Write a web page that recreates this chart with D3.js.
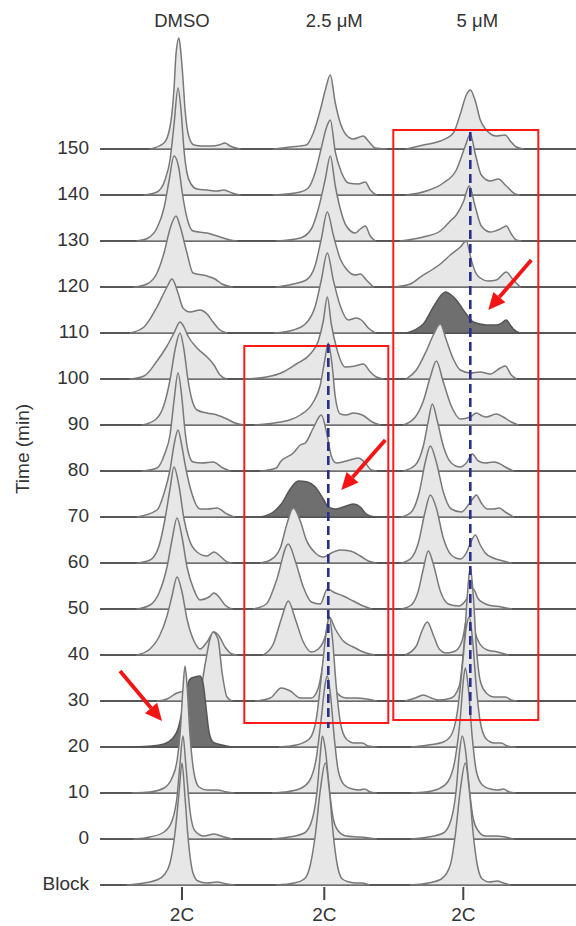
<!DOCTYPE html>
<html><head><meta charset="utf-8">
<script src="https://cdn.jsdelivr.net/npm/d3@7"></script>
<style>body{margin:0;background:#fff}svg{display:block}</style>
</head><body><svg id="c" width="576" height="926"></svg>
<script>
// ---------- data ----------
const rows = ["Block","0","10","20","30","40","50","60","70","80","90","100","110","120","130","140","150"];
const columns = ["DMSO","2.5 μM","5 μM"];
const gatedRows = ["20","70","110"];           // dark histogram per column
const xTickLabel = "2C";
const yTitle = "Time (min)";
// each histogram: [DNA-content channel offset from 2C, cell count]
const dmso = [
 [[-55,0],[-38,2],[-23,6],[-18,10],[-12,22],[-7,52],[-3,92],[0,122],[3,88],[6,48],[11,12],[16,4],[25,2],[35,3],[45,1],[52,0]],
 [[-48,0],[-32,2],[-18,7],[-10,18],[-5,42],[-2,75],[1,103],[4,72],[8,28],[13,8],[22,3],[32,5],[42,2],[50,0]],
 [[-50,0],[-32,1],[-18,5],[-10,15],[-5,32],[-2,58],[1,105],[3,127],[5,108],[8,58],[12,20],[17,6],[25,3],[35,3],[45,1],[52,0]],
 [[-50,0],[-30,1],[-18,3],[-10,8],[-4,18],[0,35],[4,55],[8,68],[13,70],[18,71],[21,64],[24,40],[27,15],[31,5],[40,2],[50,0]],
 [[-25,0],[-15,2],[-5,8],[5,10],[12,8],[18,10],[23,36],[28,62],[31,69],[36,62],[40,29],[45,4],[50,0]],
 [[-45,0],[-32,6],[-23,18],[-15,39],[-10,59],[-5,78],[0,63],[5,36],[12,14],[18,6],[25,13],[32,23],[37,19],[43,8],[50,1],[55,0]],
 [[-45,0],[-32,4],[-23,16],[-15,42],[-10,69],[-5,91],[0,72],[5,42],[12,19],[18,9],[27,12],[32,16],[37,12],[43,4],[50,0]],
 [[-45,0],[-32,3],[-23,17],[-17,44],[-12,74],[-8,96],[-3,77],[2,44],[7,24],[15,11],[25,7],[32,11],[38,7],[45,1],[50,0]],
 [[-45,0],[-25,7],[-17,27],[-12,47],[-8,72],[-4,87],[0,70],[3,53],[10,23],[18,8],[26,8],[35,9],[45,3],[52,0]],
 [[-40,0],[-25,3],[-17,18],[-12,36],[-8,70],[-4,98],[0,72],[3,40],[6,20],[11,9],[20,8],[31,9],[41,3],[48,0]],
 [[-40,0],[-27,5],[-18,20],[-12,45],[-7,75],[-2,92],[2,75],[6,45],[10,25],[15,15],[25,12],[35,10],[45,6],[53,2],[62,0]],
 [[-52,0],[-38,3],[-25,18],[-15,33],[-8,46],[-2,57],[2,52],[6,43],[15,31],[25,22],[32,14],[38,4],[45,0]],
 [[-52,0],[-38,6],[-25,26],[-15,46],[-10,54],[-4,40],[1,25],[8,21],[18,23],[25,19],[31,11],[38,3],[45,0]],
 [[-48,0],[-35,3],[-25,14],[-18,34],[-12,58],[-6,71],[-2,61],[5,34],[11,14],[25,11],[33,8],[40,3],[50,0]],
 [[-45,0],[-34,3],[-25,13],[-18,33],[-13,60],[-8,85],[-3,72],[0,50],[5,23],[11,10],[25,8],[35,5],[48,1],[55,0]],
 [[-38,0],[-25,3],[-17,15],[-12,35],[-8,70],[-4,107],[-1,85],[2,45],[5,22],[9,11],[15,6],[25,5],[35,4],[42,5],[50,2],[58,0]],
 [[-32,0],[-18,6],[-12,22],[-8,60],[-6,95],[-3,111],[-1,95],[1,70],[3,40],[7,12],[12,4],[20,3],[30,3],[37,4],[43,6],[48,3],[58,0]]
];
const dose25 = [
 [[-48,0],[-30,2],[-20,6],[-14,20],[-9,50],[-4,95],[1,122],[5,95],[9,50],[13,20],[18,6],[25,3],[32,2],[38,2],[45,0]],
 [[-52,0],[-35,2],[-20,6],[-12,20],[-7,50],[-4,85],[-2,103],[1,90],[5,50],[9,20],[14,8],[22,3],[35,2],[45,1],[52,0]],
 [[-52,0],[-40,1],[-25,4],[-15,12],[-8,35],[-3,75],[1,110],[3,117],[6,100],[10,55],[14,22],[20,8],[28,4],[35,3],[40,4],[46,1],[52,0]],
 [[-45,0],[-28,2],[-15,8],[-8,28],[-3,70],[2,115],[5,130],[8,110],[12,60],[16,25],[22,8],[30,4],[38,4],[44,1],[52,0]],
 [[-69,0],[-54,3],[-43,13],[-34,10],[-24,3],[-13,3],[-6,13],[0,45],[4,70],[8,40],[11,10],[22,3],[32,3],[42,2],[52,0]],
 [[-61,0],[-51,11],[-43,36],[-36,54],[-29,36],[-21,13],[-13,3],[-6,6],[1,19],[5,38],[11,26],[19,14],[29,8],[39,3],[50,0]],
 [[-71,0],[-58,5],[-48,28],[-36,65],[-29,48],[-21,22],[-13,7],[-4,5],[3,20],[9,17],[19,13],[29,8],[39,3],[47,0]],
 [[-64,0],[-54,3],[-44,15],[-38,37],[-31,55],[-24,42],[-18,23],[-9,10],[-1,6],[7,10],[16,13],[26,12],[36,7],[44,2],[52,0]],
 [[-64,0],[-51,5],[-43,13],[-34,28],[-26,36],[-17,35],[-9,30],[-1,18],[4,10],[11,8],[19,10],[29,13],[36,10],[42,3],[51,0]],
 [[-64,0],[-48,3],[-44,9],[-31,18],[-24,26],[-19,28],[-11,43],[-3,56],[3,35],[7,15],[12,8],[22,10],[34,13],[41,8],[47,1],[52,0]],
 [[-70,0],[-50,2],[-35,5],[-24,10],[-11,23],[-4,40],[0,62],[4,82],[8,58],[11,28],[16,11],[22,10],[29,12],[38,10],[48,3],[56,0]],
 [[-81,0],[-58,2],[-41,7],[-28,15],[-14,25],[-6,38],[-1,58],[3,82],[7,55],[12,32],[21,12],[31,13],[39,15],[46,7],[52,2],[59,0]],
 [[-50,0],[-31,3],[-18,10],[-9,27],[-3,53],[3,80],[9,53],[16,27],[24,13],[32,15],[37,13],[44,5],[51,0]],
 [[-48,0],[-31,3],[-18,7],[-9,22],[-3,48],[3,75],[9,52],[16,28],[22,18],[31,12],[36,13],[42,7],[49,0]],
 [[-48,0],[-24,3],[-13,12],[-6,32],[1,62],[6,85],[11,55],[16,32],[22,15],[31,8],[36,12],[41,15],[46,5],[51,0]],
 [[-51,0],[-24,3],[-16,7],[-9,23],[-3,47],[2,67],[6,75],[11,43],[17,23],[24,12],[34,11],[41,13],[46,5],[52,0]],
 [[-51,0],[-34,2],[-18,4],[-11,16],[-4,39],[1,59],[6,74],[11,46],[16,26],[22,14],[29,10],[39,13],[44,8],[51,1],[62,0]]
];
const dose5 = [
 [[-53,0],[-35,2],[-22,6],[-13,20],[-8,50],[-3,95],[2,122],[6,95],[10,50],[14,20],[19,6],[26,3],[34,4],[40,2],[47,0]],
 [[-52,0],[-35,2],[-20,6],[-12,20],[-7,50],[-4,85],[-1,103],[2,90],[6,50],[10,20],[15,8],[22,3],[32,3],[42,2],[50,0]],
 [[-52,0],[-38,1],[-25,4],[-15,12],[-8,35],[-3,75],[0,112],[2,125],[5,105],[9,55],[13,22],[19,8],[27,4],[35,3],[40,4],[46,1],[52,0]],
 [[-52,0],[-35,2],[-20,5],[-12,12],[-6,35],[-1,80],[3,120],[6,130],[9,110],[13,60],[17,25],[23,8],[31,4],[38,4],[44,1],[52,0]],
 [[-58,0],[-48,3],[-40,6],[-32,3],[-24,1],[-12,3],[-4,15],[1,60],[5,118],[7,134],[10,105],[13,55],[17,20],[23,8],[31,4],[42,4],[48,1],[53,0]],
 [[-58,0],[-47,9],[-41,25],[-36,33],[-30,20],[-24,6],[-17,2],[-8,4],[-1,15],[4,40],[7,45],[11,25],[16,12],[24,5],[34,3],[45,0]],
 [[-62,0],[-52,4],[-45,18],[-40,40],[-35,58],[-30,45],[-23,18],[-15,5],[-5,3],[2,8],[6,15],[10,20],[15,10],[25,4],[38,2],[48,0]],
 [[-62,0],[-52,5],[-45,20],[-38,52],[-33,68],[-27,55],[-20,25],[-12,8],[-3,4],[3,10],[8,22],[12,28],[17,18],[22,10],[30,5],[40,2],[48,0]],
 [[-62,0],[-52,5],[-44,25],[-38,55],[-33,71],[-27,55],[-20,25],[-12,8],[-2,5],[5,12],[10,19],[13,22],[18,14],[24,8],[30,8],[36,9],[42,5],[50,0]],
 [[-60,0],[-48,6],[-40,25],[-35,50],[-31,67],[-26,50],[-20,25],[-12,8],[-3,4],[3,8],[9,17],[15,10],[22,8],[30,9],[35,8],[42,4],[50,0]],
 [[-60,0],[-48,8],[-40,24],[-33,48],[-27,64],[-20,43],[-12,19],[-3,6],[7,8],[13,12],[19,9],[23,8],[33,11],[40,8],[48,3],[55,0]],
 [[-57,0],[-47,9],[-37,28],[-30,44],[-23,55],[-17,39],[-10,20],[-3,9],[7,6],[17,7],[27,5],[37,11],[42,13],[48,4],[53,0]],
 [[-57,0],[-40,9],[-30,26],[-22,38],[-18,41],[-12,38],[-7,33],[3,19],[10,11],[23,8],[33,8],[37,9],[43,13],[47,8],[50,4],[57,0]],
 [[-70,0],[-53,3],[-43,10],[-30,18],[-23,23],[-13,32],[-3,40],[3,46],[8,27],[12,15],[17,9],[25,6],[33,7],[43,15],[50,7],[57,0]],
 [[-63,0],[-40,4],[-23,10],[-13,20],[-7,26],[0,39],[6,55],[12,34],[18,15],[27,9],[37,12],[43,15],[48,7],[53,1],[58,0]],
 [[-57,0],[-37,4],[-20,12],[-7,25],[2,49],[7,61],[12,41],[18,20],[27,14],[35,16],[43,9],[52,1],[56,0]],
 [[-57,0],[-40,4],[-23,8],[-10,16],[-3,35],[3,54],[7,59],[12,48],[17,29],[23,19],[33,13],[42,14],[47,8],[53,2],[60,0]]
];
const histograms = [dmso, dose25, dose5];
// annotations
const highlightBoxes = [
 {col:"2.5 μM", rowLow:"30", rowHigh:"100", dxMin:-80, dxMax:64, padTop:33, padBottom:22},
 {col:"5 μM",   rowLow:"30", rowHigh:"150", dxMin:-70, dxMax:75, padTop:19, padBottom:19}
];
const refLines = [
 {col:"2.5 μM", dx:4, rowLow:"30", rowHigh:"100", padTop:35, padBottom:27},
 {col:"5 μM",   dx:7, rowLow:"30", rowHigh:"150", padTop:17, padBottom:15}
];
const arrows = [
 {col:"DMSO",   row:"20",  from:[-62,76], to:[-20,26]},
 {col:"2.5 μM", row:"70",  from:[61,77],  to:[17,27]},
 {col:"5 μM",   row:"110", from:[68,73],  to:[25,23]}
];

// ---------- scales ----------
const svg = d3.select("#c");
const font = "'Liberation Sans', Arial, sans-serif";
const rowY = d3.scalePoint().domain(rows).range([885, 149]);
const colX = d3.scaleOrdinal().domain(columns).range([182, 324.3, 463.3]);
const xFor = col => d3.scaleLinear().domain([-100, 100]).range([colX(col) - 100, colX(col) + 100]);
const hScale = d3.scaleLinear().domain([0, 100]).range([0, 100]);
const lineLeft = 100, lineRight = 576;

const plot = svg.append("g");
// draw from top row down so lower rows overlap upper ones
for (let r = rows.length - 1; r >= 0; r--) {
  const row = rows[r], base = rowY(row);
  const g = plot.append("g");
  g.append("line").attr("x1", lineLeft).attr("x2", lineRight)
    .attr("y1", base).attr("y2", base)
    .attr("stroke", "#575757").attr("stroke-width", 2.2);
  columns.forEach((col, ci) => {
    const xs = xFor(col);
    const dark = gatedRows[ci] === row;
    const area = d3.area().x(d => xs(d[0])).y0(base).y1(d => base - hScale(d[1]))
      .curve(d3.curveMonotoneX);
    g.append("path").datum(histograms[ci][r]).attr("d", area)
      .attr("fill", dark ? "#6f6f6f" : "#e7e7e7")
      .attr("stroke", dark ? "#555" : "#787878")
      .attr("stroke-width", 1.5).attr("stroke-linejoin", "round");
  });
}

// y-axis labels
svg.append("g").selectAll("text").data(rows).join("text")
  .attr("x", 89).attr("y", d => rowY(d) + 5).attr("text-anchor", "end")
  .attr("font-family", font).attr("font-size", 19).attr("fill", "#333").text(d => d);
svg.append("text").attr("transform", "translate(29,449) rotate(-90)")
  .attr("text-anchor", "middle").attr("font-family", font).attr("font-size", 19)
  .attr("fill", "#333").text(yTitle);

// column headers
const headerOffset = {"DMSO": 0, "2.5 μM": 10, "5 μM": 14};
svg.append("g").selectAll("text").data(columns).join("text")
  .attr("x", d => colX(d) + headerOffset[d]).attr("y", 27).attr("text-anchor", "middle")
  .attr("font-family", font).attr("font-size", 18.5).attr("fill", "#333").text(d => d);

// 2C ticks
const xt = svg.append("g");
columns.forEach(col => {
  const x = xFor(col)(0);
  xt.append("line").attr("x1", x).attr("x2", x).attr("y1", rowY("Block") + 2).attr("y2", rowY("Block") + 15)
    .attr("stroke", "#444").attr("stroke-width", 2);
  xt.append("text").attr("x", x).attr("y", 921).attr("text-anchor", "middle")
    .attr("font-family", font).attr("font-size", 19).attr("fill", "#333").text(xTickLabel);
});

// highlight boxes
highlightBoxes.forEach(b => {
  const xs = xFor(b.col);
  const y0 = rowY(b.rowHigh) - b.padTop, y1 = rowY(b.rowLow) + b.padBottom;
  svg.append("rect").attr("x", xs(b.dxMin)).attr("y", y0)
    .attr("width", xs(b.dxMax) - xs(b.dxMin)).attr("height", y1 - y0)
    .attr("fill", "none").attr("stroke", "#ff1a1a").attr("stroke-width", 2);
});
// dashed reference lines
refLines.forEach(l => {
  const x = xFor(l.col)(l.dx);
  svg.append("line").attr("x1", x).attr("x2", x)
    .attr("y1", rowY(l.rowHigh) - l.padTop).attr("y2", rowY(l.rowLow) + l.padBottom)
    .attr("stroke", "#2a2e8c").attr("stroke-width", 2.6).attr("stroke-dasharray", "9,5");
});
// arrows
arrows.forEach(a => {
  const xs = xFor(a.col), base = rowY(a.row);
  const x1 = xs(a.from[0]), y1 = base - a.from[1];
  const x2 = xs(a.to[0]), y2 = base - a.to[1];
  const ang = Math.atan2(y2 - y1, x2 - x1);
  const headL = 17, headW = 8;
  const bx = x2 - headL * Math.cos(ang), by = y2 - headL * Math.sin(ang);
  svg.append("line").attr("x1", x1).attr("y1", y1).attr("x2", bx).attr("y2", by)
    .attr("stroke", "#f51414").attr("stroke-width", 3.8);
  const px = -Math.sin(ang) * headW, py = Math.cos(ang) * headW;
  svg.append("path").attr("d", `M${x2},${y2}L${bx + px},${by + py}L${bx - px},${by - py}Z`)
    .attr("fill", "#f51414");
});
</script></body></html>
